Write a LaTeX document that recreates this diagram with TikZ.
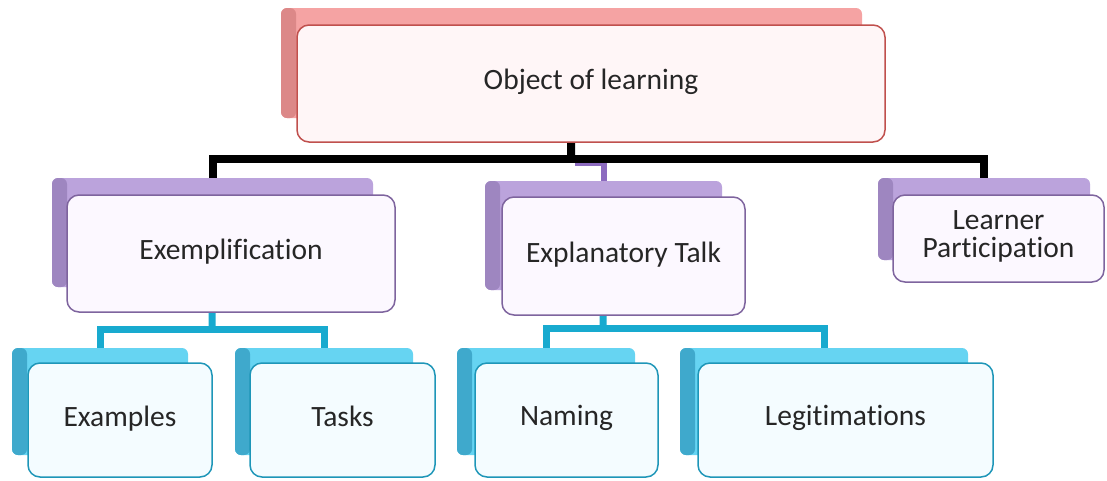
\documentclass[tikz,border=0pt]{standalone}
\usepackage{fontspec}
\setmainfont{Carlito}[Ligatures=NoCommon]
\usetikzlibrary{positioning,backgrounds}

\definecolor{objline}{HTML}{C0504D}
\definecolor{objback}{HTML}{F5A3A3}
\definecolor{objside}{HTML}{DC8888}
\definecolor{objfill}{HTML}{FFF6F7}
\definecolor{subline}{HTML}{7E649E}
\definecolor{subback}{HTML}{BBA3DC}
\definecolor{subside}{HTML}{9E86C0}
\definecolor{subfill}{HTML}{FCF8FF}
\definecolor{leafline}{HTML}{1E96B8}
\definecolor{leafback}{HTML}{66D4F2}
\definecolor{leafside}{HTML}{3FA9CC}
\definecolor{leaffill}{HTML}{F4FCFF}
\definecolor{leafwire}{HTML}{18AACF}
\definecolor{subwire}{HTML}{8C6BBF}

\begin{document}
\begin{tikzpicture}[x=1pt,y=-1pt]
 \tikzset{back node/.style={rectangle, rounded corners=6pt, inner sep=0pt,
 		fill=#1back, path picture={\fill[#1side] (path picture bounding box.north west)
 		rectangle ([xshift=15pt]path picture bounding box.south west);}}, }
 \tikzset{front node/.style={rectangle, draw=#1line, line width=1.5pt, fill=#1fill,
 		rounded corners=12pt, text centered, align=center, inner sep=0pt,
 		text=black!85, font=\fontsize{29.5}{28}\selectfont,
 		execute at begin node=\strut}, }
 \tikzset{top wire/.style={line width=8pt, black}, }
 \tikzset{mid wire/.style={line width=6pt, subwire}, }
 \tikzset{leaf wire/.style={line width=7pt, leafwire}, }
 \useasboundingbox (0,0) rectangle (1107,480);
 % back plates
 \node[back node=obj, minimum width=581, minimum height=110] (objb) at (571.5,63) {};
 \node[back node=sub, minimum width=321, minimum height=109] (exeb) at (212.5,232.5) {};
 \node[back node=sub, minimum width=237, minimum height=109] (explb) at (603.5,235.5) {};
 \node[back node=sub, minimum width=212, minimum height=82] (learnb) at (984,219) {};
 \node[back node=leaf, minimum width=176, minimum height=107] (exb) at (100,401.5) {};
 \node[back node=leaf, minimum width=178, minimum height=107] (taskb) at (324,401.5) {};
 \node[back node=leaf, minimum width=178, minimum height=107] (namb) at (546,401.5) {};
 \node[back node=leaf, minimum width=288, minimum height=107] (legb) at (824,401.5) {};
 % wires
 \coordinate (objbar) at (571,159);
 \coordinate (midbar) at (575,163);
 \coordinate (exebar) at (212,329);
 \coordinate (explbar) at (603,328);
 \draw[mid wire] (midbar) -| (explb.north);
 \draw[top wire] (objb.south) -- (objbar);
 \draw[top wire] (exeb.north) |- (objbar) -| (learnb.north);
 \draw[leaf wire] (exeb.south) -- (exebar);
 \draw[leaf wire] (exb.north) |- (exebar) -| (taskb.north);
 \draw[leaf wire] (explb.south) -- (explbar);
 \draw[leaf wire] (namb.north) |- (explbar) -| (legb.north);
 % front plates
 \node[front node=obj, minimum width=588, minimum height=117] (obj) at (591,83.5) {Object of learning};
 \node[front node=sub, minimum width=328, minimum height=117] (exe) at (231,253.5) {Exemplification};
 \node[front node=sub, minimum width=243, minimum height=118] (expl) at (623.5,256) {Explanatory Talk};
 \node[front node=sub, minimum width=211, minimum height=87] (learn) at (998.5,238.5) {Learner\\Participation};
 \node[front node=leaf, minimum width=184, minimum height=114] (ex) at (120,420) {Examples};
 \node[front node=leaf, minimum width=185, minimum height=114] (task) at (342.5,420) {Tasks};
 \node[front node=leaf, minimum width=183, minimum height=114] (nam) at (566.5,420) {Naming};
 \node[front node=leaf, minimum width=295, minimum height=114] (leg) at (845.5,420) {Legitimations};
 %
\end{tikzpicture}
\end{document}
